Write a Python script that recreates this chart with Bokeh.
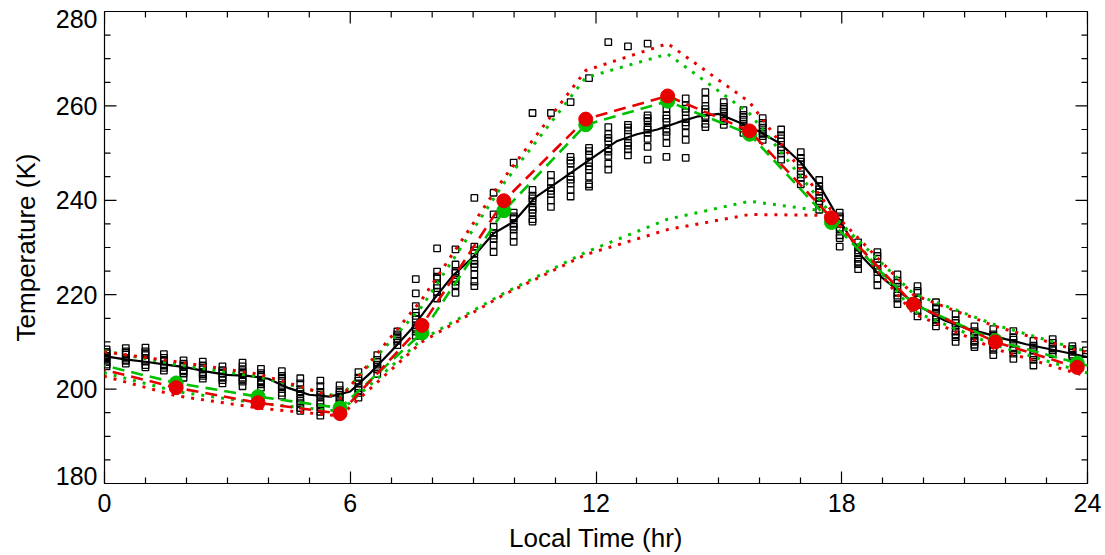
from bokeh.plotting import figure
from bokeh.models import FixedTicker, Range1d, CustomJSTickFormatter
from bokeh.embed import file_html
from bokeh.resources import INLINE

# Observed temperatures (K), grouped by local-time bin (hr)
obs_hours = [0.05, 0.52, 1.0, 1.45, 1.93, 2.4, 2.88, 3.37, 3.82, 4.33, 4.78, 5.27, 5.74,
             6.2, 6.66, 7.15, 7.6, 8.12, 8.57, 9.03, 9.5, 9.99, 10.45, 10.9, 11.38, 11.83,
             12.3, 12.78, 13.26, 13.72, 14.19, 14.67, 15.12, 15.6, 16.07, 16.52, 17.0,
             17.45, 17.95, 18.4, 18.87, 19.36, 19.85, 20.3, 20.78, 21.24, 21.7, 22.19,
             22.68, 23.15, 23.63, 23.96]
obs_temps = [
    [208.4, 207.6, 207.0, 206.4, 205.8, 205.2, 207.9, 206.7, 204.8],
    [208.7, 208.0, 207.3, 206.6, 206.0, 205.4, 207.7, 206.2],
    [208.8, 208.0, 207.2, 206.5, 205.8, 205.1, 204.6, 207.6, 206.0],
    [207.4, 206.6, 205.9, 205.2, 204.5, 203.9, 206.2, 205.0],
    [206.1, 205.4, 204.7, 204.0, 203.3, 202.4, 205.0, 203.8],
    [205.8, 205.0, 204.2, 203.5, 202.8, 202.2, 204.6, 203.2],
    [204.8, 204.0, 203.3, 202.6, 201.9, 201.2, 203.8, 202.4],
    [205.6, 204.8, 204.0, 203.2, 202.4, 201.6, 200.6, 203.6, 202.0],
    [204.3, 203.4, 202.6, 201.8, 201.0, 200.3, 203.0, 201.4],
    [203.8, 202.8, 201.8, 200.9, 200.0, 199.2, 198.6, 202.2, 200.4],
    [202.3, 201.2, 200.0, 199.0, 198.0, 197.0, 196.0, 195.4, 199.5, 197.5],
    [201.8, 200.6, 199.4, 198.3, 197.2, 196.2, 195.2, 194.4, 198.8, 196.8],
    [200.8, 199.8, 198.8, 197.8, 197.0, 196.5, 199.3, 198.2],
    [203.6, 202.4, 201.2, 200.2, 199.2, 198.2, 201.8, 199.8],
    [207.2, 206.2, 205.2, 204.2, 203.2, 205.7, 204.7],
    [212.2, 211.2, 210.2, 209.3, 211.6, 210.6],
    [217.6, 216.2, 214.8, 213.5, 212.2, 211.3, 215.5, 213.0, 223.3, 220.3],
    [224.9, 223.4, 222.0, 220.6, 219.2, 223.8, 221.4, 229.8],
    [226.4, 225.0, 223.5, 222.0, 220.4, 224.6, 222.8, 229.6],
    [230.2, 228.8, 227.3, 225.8, 224.3, 222.8, 221.8, 229.4, 226.5, 240.5],
    [234.4, 233.1, 231.8, 230.5, 229.0, 237.0, 232.5, 241.6],
    [237.4, 236.2, 235.0, 233.8, 232.5, 231.2, 236.6, 234.4, 248.0],
    [242.2, 241.0, 239.8, 238.6, 237.3, 236.0, 235.5, 240.4, 238.0, 258.5],
    [245.4, 243.9, 242.6, 241.3, 240.0, 238.6, 242.0, 258.5],
    [249.2, 247.8, 246.4, 245.0, 243.6, 242.2, 240.8, 248.4, 244.4, 260.8],
    [251.1, 249.6, 248.0, 246.5, 245.0, 243.4, 242.9, 250.4, 247.2, 265.9],
    [255.5, 254.0, 252.5, 251.0, 249.4, 247.8, 246.5, 253.2, 250.3, 273.5],
    [256.0, 254.8, 253.5, 252.2, 250.8, 249.5, 255.4, 251.6, 272.6],
    [258.0, 256.8, 255.6, 254.3, 253.0, 251.3, 248.6, 257.4, 255.0, 273.2],
    [260.8, 259.4, 258.0, 256.6, 255.2, 253.6, 252.1, 249.2, 257.3, 254.5],
    [261.6, 260.1, 258.7, 257.3, 255.8, 254.3, 252.8, 249.0, 259.4, 256.5],
    [262.9, 261.4, 260.0, 258.7, 257.4, 256.2, 255.5, 259.3, 257.9],
    [260.8, 259.8, 258.8, 257.8, 256.8, 256.0, 259.3, 257.3],
    [259.1, 258.1, 257.1, 256.2, 255.2, 254.3, 257.6, 255.7],
    [257.4, 256.4, 255.4, 254.5, 253.6, 252.8, 256.0, 254.1],
    [255.0, 253.8, 252.5, 251.2, 249.9, 248.6, 253.1, 250.6],
    [250.2, 249.0, 247.6, 246.2, 244.8, 243.4, 248.2, 245.5],
    [244.3, 243.0, 241.8, 240.5, 239.2, 238.0, 242.3, 239.8],
    [237.4, 236.2, 235.0, 233.8, 232.6, 232.0, 236.6, 234.2, 230.2],
    [231.1, 230.0, 228.8, 227.6, 226.5, 225.4, 229.4, 227.0],
    [229.0, 227.6, 226.2, 224.8, 223.4, 222.0, 228.2, 225.4],
    [224.3, 223.0, 221.7, 220.4, 219.2, 218.0, 222.5, 219.8],
    [221.8, 220.4, 219.0, 217.8, 216.6, 215.4, 220.8, 218.2],
    [218.4, 217.3, 216.2, 215.2, 214.2, 213.3, 217.0, 214.8],
    [215.9, 214.6, 213.4, 212.2, 211.0, 210.0, 214.0, 211.6],
    [213.3, 212.3, 211.3, 210.3, 209.4, 208.9, 212.0, 210.0],
    [212.7, 211.6, 210.5, 209.4, 208.3, 207.2, 211.2, 208.8],
    [212.3, 211.0, 209.8, 208.6, 207.5, 206.4, 210.5, 208.2],
    [210.2, 209.2, 208.2, 207.2, 206.2, 205.0, 208.8, 206.8],
    [210.6, 209.8, 209.0, 208.2, 207.4, 208.6],
    [209.1, 208.5, 207.9, 207.3, 207.0, 208.2],
    [208.2, 207.4],
]

# Fitted diurnal curve through the observations
fit_hours = [0, 0.5, 1, 1.5, 2, 2.5, 3, 3.5, 4, 4.5, 5, 5.5, 6, 6.5, 7, 7.5, 8, 8.5,
             9, 9.5, 10, 10.5, 11, 11.5, 12, 12.5, 13, 13.5, 14, 14.5, 15, 15.5, 16,
             16.5, 17, 17.5, 18, 18.5, 19, 19.5, 20, 20.5, 21, 21.5, 22, 22.5, 23, 23.5, 24]
fit_temps = [207.0, 206.3, 205.8, 205.2, 204.6, 203.7, 203.0, 202.8, 202.2, 200.2, 198.8,
             198.4, 199.5, 203.5, 208.0, 212.8, 218.6, 224.0, 228.0, 233.0, 235.5, 240.5,
             243.5, 246.5, 249.5, 252.5, 254.0, 255.0, 256.5, 257.8, 258.3, 256.5, 254.5,
             252.0, 248.0, 242.5, 235.0, 228.0, 223.5, 220.0, 217.0, 214.6, 213.0, 211.8,
             210.6, 209.5, 208.6, 207.7, 206.8]

# Model output in 2-hour local-time bins
model_hours = [1.75, 3.75, 5.75, 7.75, 9.75, 11.75, 13.75, 15.75, 17.75, 19.75, 21.75, 23.75]
red_mean = [200.3, 197.1, 194.8, 213.5, 239.9, 257.2, 262.1, 254.7, 236.3, 218.0, 210.0, 204.6]
red_max = [205.8, 203.2, 198.0, 219.0, 244.7, 267.5, 273.2, 260.8, 237.8, 220.0, 213.3, 208.2]
red_min = [198.6, 196.0, 194.3, 210.0, 220.0, 228.5, 233.8, 237.0, 236.8, 216.0, 208.5, 203.3]
green_mean = [201.3, 198.4, 196.0, 211.9, 237.8, 256.0, 261.0, 254.0, 235.3, 218.0, 210.3, 205.5]
green_max = [205.2, 202.6, 198.3, 217.5, 243.6, 266.0, 271.0, 258.4, 237.0, 220.2, 213.6, 208.5]
green_min = [199.5, 197.0, 195.3, 210.5, 220.3, 229.0, 236.0, 239.8, 237.5, 216.5, 209.3, 204.0]

# Axis ticks and titles
x_major = [0, 6, 12, 18, 24]
x_minor = [h for h in range(25) if h % 6]
y_major = [180, 200, 220, 240, 260, 280]
y_minor = [t for t in range(180, 281, 5) if t % 20]
x_title = "Local Time (hr)"
y_title = "Temperature (K)"

RED = "#e60000"
GREEN = "#00c000"
FONT = "Liberation Sans"
TICK_FONT = "25px"
TITLE_FONT = "26px"

X0, X1, Y0, Y1 = 0, 24, 180, 280
FRAME_W, FRAME_H = 983, 474
PX_X = (X1 - X0) / FRAME_W   # hours per pixel
PX_Y = (Y1 - Y0) / FRAME_H   # kelvin per pixel


def wrap_day(hours, vals):
    """Repeat the end bins one day over so the lines run through 0 h and 24 h."""
    return [hours[-1] - 24] + list(hours) + [hours[0] + 24], [vals[-1]] + list(vals) + [vals[0]]


p = figure(width=1105, height=555,
           x_range=Range1d(X0, X1), y_range=Range1d(Y0, Y1),
           output_backend="svg", toolbar_location=None,
           min_border_left=104, min_border_right=18, min_border_top=11, min_border_bottom=70,
           background_fill_color="white", border_fill_color="white",
           outline_line_color="black", outline_line_width=1.2)
p.xgrid.visible = False
p.ygrid.visible = False

# bottom axis: ticks, labels and title
xax = p.xaxis[0]
xax.ticker = FixedTicker(ticks=x_major, minor_ticks=x_minor)
xax.axis_line_color = "black"
xax.axis_line_width = 1.2
xax.major_tick_line_color = "black"
xax.minor_tick_line_color = "black"
xax.major_tick_line_width = 1.2
xax.minor_tick_line_width = 1.2
xax.major_tick_in = 12
xax.major_tick_out = 0
xax.minor_tick_in = 6
xax.minor_tick_out = 0
xax.major_label_text_font = FONT
xax.major_label_text_color = "black"
xax.major_label_text_font_size = TICK_FONT
xax.major_label_text_line_height = 0.9
xax.major_label_standoff = 10
xax.axis_label = x_title
xax.axis_label_text_font = FONT
xax.axis_label_text_font_style = "normal"
xax.axis_label_text_color = "black"
xax.axis_label_text_font_size = TITLE_FONT
xax.axis_label_text_line_height = 0.9
xax.axis_label_standoff = 8

# left axis carries labels and title only; the end labels sit inside the plot height
yax = p.yaxis[0]
label_pos = [Y0 + 8 * PX_Y] + [t for t in y_major if Y0 < t < Y1] + [Y1 - 8 * PX_Y]
yax.ticker = FixedTicker(ticks=label_pos, minor_ticks=[])
yax.formatter = CustomJSTickFormatter(code="return String(Math.round(tick / 20) * 20);")
yax.axis_line_color = None
yax.major_tick_line_color = None
yax.minor_tick_line_color = None
yax.major_tick_in = 0
yax.major_tick_out = 0
yax.major_label_text_font = FONT
yax.major_label_text_color = "black"
yax.major_label_text_font_size = TICK_FONT
yax.major_label_standoff = 7
yax.axis_label = y_title
yax.axis_label_text_font = FONT
yax.axis_label_text_font_style = "normal"
yax.axis_label_text_color = "black"
yax.axis_label_text_font_size = TITLE_FONT
yax.axis_label_standoff = 12

# inward ticks on the left, top and right edges
tx0, ty0, tx1, ty1 = [], [], [], []
for h, ln in [(h, 12) for h in x_major] + [(h, 6) for h in x_minor]:
    tx0.append(h); tx1.append(h)
    ty0.append(Y1); ty1.append(Y1 - ln * PX_Y)
for t, ln in [(t, 12) for t in y_major] + [(t, 6) for t in y_minor]:
    tx0.append(X1); tx1.append(X1 - ln * PX_X)
    ty0.append(t); ty1.append(t)
    tx0.append(X0); tx1.append(X0 + ln * PX_X)
    ty0.append(t); ty1.append(t)
p.segment(tx0, ty0, tx1, ty1, line_color="black", line_width=1.2)

# observations
sx, sy = [], []
for h, temps in zip(obs_hours, obs_temps):
    for t in temps:
        sx.append(h)
        sy.append(t)
p.scatter(sx, sy, marker="square", size=6.5, fill_color=None, line_color="black", line_width=1.3)

# fitted curve
p.line(fit_hours, fit_temps, line_color="black", line_width=2.2)

# model envelopes (dotted) and means (dashed)
for vals, col in [(green_max, GREEN), (green_min, GREEN), (red_max, RED), (red_min, RED)]:
    xs, ys = wrap_day(model_hours, vals)
    p.line(xs, ys, line_color=col, line_width=3, line_dash="3 7")

for vals, col in [(green_mean, GREEN), (red_mean, RED)]:
    xs, ys = wrap_day(model_hours, vals)
    p.line(xs, ys, line_color=col, line_width=2.6, line_dash="12 7")

p.scatter(model_hours, green_mean, marker="circle", size=14, fill_color=GREEN, line_color=GREEN)
p.scatter(model_hours, red_mean, marker="circle", size=14, fill_color=RED, line_color=RED)

open("out.html", "w").write(file_html(p, INLINE))
